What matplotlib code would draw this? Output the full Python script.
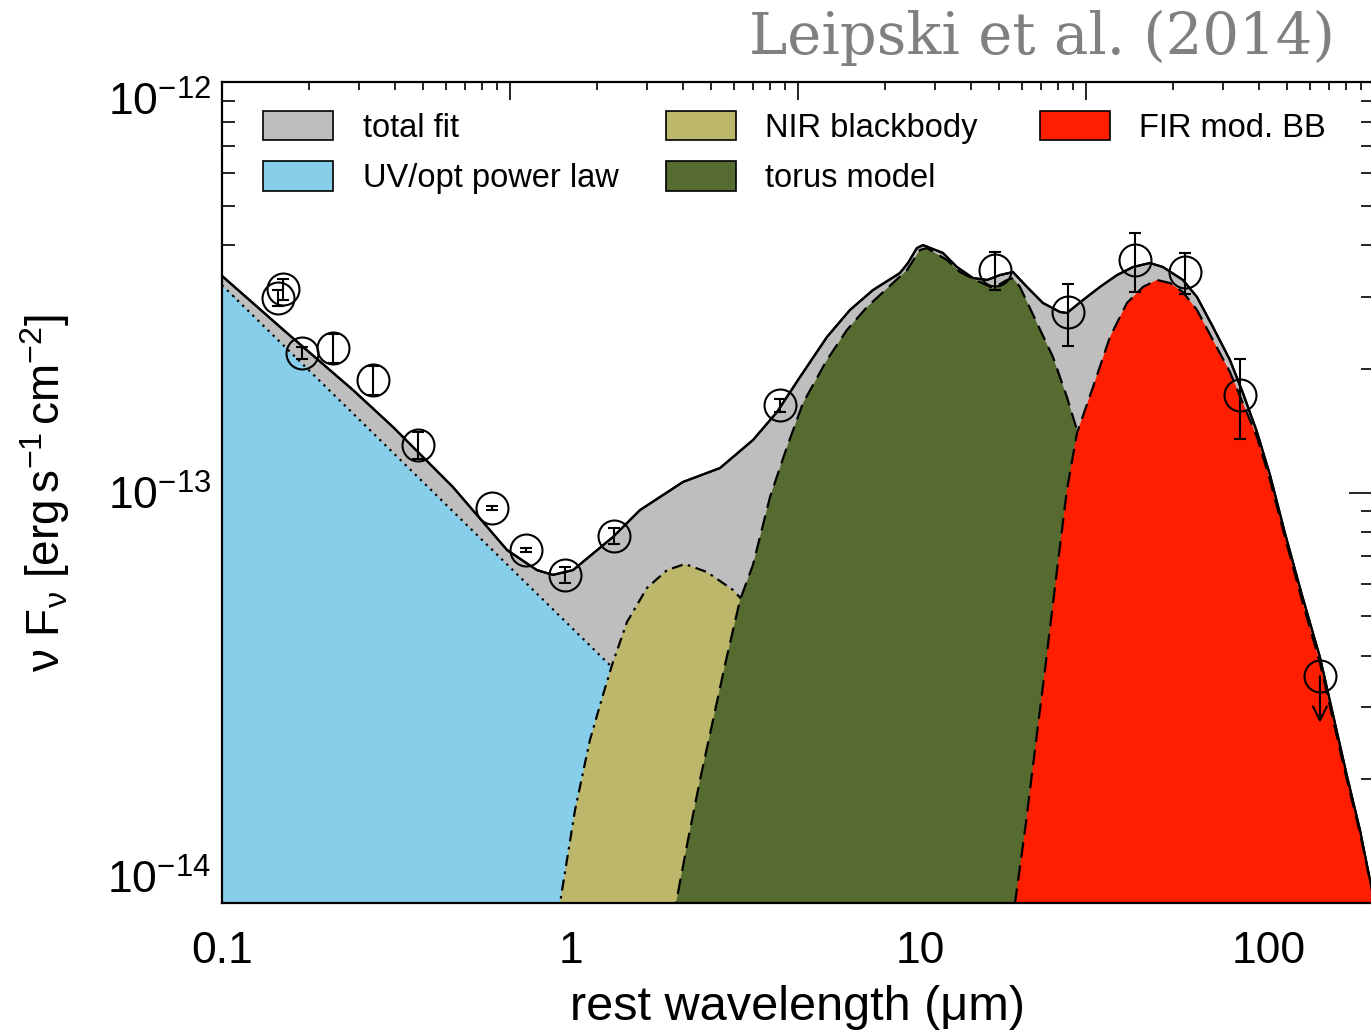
import matplotlib
matplotlib.use("Agg")
from matplotlib import pyplot as plt
from matplotlib.patches import Patch
from matplotlib.ticker import LogLocator, NullFormatter
import numpy as np

UNIT = 1e-13  # all fluxes below in units of 1e-13 erg/s/cm^2

# photometry (rest wavelength in micron)
phot_wave = [0.150, 0.145, 0.170, 0.208, 0.271, 0.364, 0.594, 0.743, 0.962, 1.328,
             3.97, 16.4, 26.5, 41.3, 57.4, 82.6]
phot_flux = [3.13, 2.98, 2.19, 2.25, 1.88, 1.305, 0.917, 0.724, 0.629, 0.783,
             1.63, 3.48, 2.75, 3.68, 3.44, 1.73]
phot_err = [0.18, 0.13, 0.07, 0.18, 0.15, 0.10, 0.01, 0.008, 0.028, 0.035,
            0.055, 0.37, 0.47, 0.60, 0.40, 0.38]
lim_wave = [140.0]
lim_flux = [0.357]
lim_arrow_end = [0.275]

# total fit
total_wave = [0.100, 0.1535, 0.2373, 0.309, 0.459, 0.656, 0.799, 0.888, 1.013, 1.319,
              1.576, 1.799, 2.094, 2.673, 3.322, 3.894, 4.531, 5.413, 6.302, 7.334,
              8.76, 9.24, 9.80, 10.20, 11.64, 12.76, 14.19, 15.56, 16.95, 18.47,
              20.26, 22.51, 25.18, 26.37, 29.31, 32.79, 36.69, 40.76, 45.6, 49.7,
              56.7, 62.2, 69.1, 77.3, 84.2, 92.4, 100.7, 111.1, 124.3, 140.0,
              167.3, 182.3, 197.3, 208]
total_flux = [3.37, 2.447, 1.777, 1.444, 1.031, 0.724, 0.647, 0.630, 0.647, 0.779,
              0.906, 0.975, 1.061, 1.147, 1.342, 1.571, 1.911, 2.392, 2.784, 3.113,
              3.424, 3.623, 3.940, 4.007, 3.832, 3.542, 3.330, 3.294, 3.386, 3.444,
              3.168, 2.895, 2.753, 2.737, 2.943, 3.168, 3.386, 3.542, 3.623, 3.542,
              3.294, 2.994, 2.531, 2.103, 1.748, 1.404, 1.103, 0.797, 0.563, 0.397,
              0.204, 0.1506, 0.1076, 0.088]

# UV/optical power law
pl_wave = [0.1, 2.0]
pl_flux = [3.20, 0.264]

# NIR blackbody
nir_wave = [0.906, 0.930, 1.027, 1.133, 1.235, 1.311, 1.447, 1.651, 1.884, 2.121,
            2.453, 2.912, 3.152, 3.718, 4.531, 5.52, 5.90]
nir_flux = [0.0813, 0.100, 0.1684, 0.2495, 0.3212, 0.380, 0.4836, 0.5855, 0.647, 0.6695,
            0.640, 0.579, 0.538, 0.3494, 0.1885, 0.100, 0.0813]

# torus model
torus_wave = [1.921, 2.0, 2.164, 2.342, 2.535, 2.762, 3.050, 3.322, 3.718, 4.158,
              4.622, 5.413, 6.177, 7.050, 8.367, 9.18, 10.0, 10.47, 11.95, 13.02,
              14.86, 16.19, 17.76, 18.47, 19.34, 21.64, 24.05, 26.37, 28.18, 31.73,
              36.21, 41.30, 48.7, 50.4]
torus_flux = [0.0813, 0.100, 0.1424, 0.1993, 0.2715, 0.380, 0.547, 0.666, 0.975, 1.291,
              1.652, 2.103, 2.489, 2.830, 3.238, 3.483, 3.897, 3.940, 3.685, 3.444,
              3.257, 3.149, 3.294, 3.330, 3.168, 2.588, 2.138, 1.708, 1.420, 0.959,
              0.547, 0.279, 0.100, 0.0813]

# FIR modified blackbody
fir_wave = [17.87, 18.72, 20.0, 21.35, 22.81, 24.70, 26.37, 28.18, 31.32, 35.03,
            39.18, 43.55, 47.76, 52.04, 56.7, 62.2, 69.1, 77.3, 84.2, 92.4,
            100.7, 111.1, 124.3, 140.0, 167.3, 182.3, 197.3, 208]
fir_flux = [0.0768, 0.100, 0.1506, 0.2358, 0.3694, 0.647, 1.014, 1.396, 1.807, 2.392,
            2.895, 3.168, 3.294, 3.238, 3.078, 2.784, 2.352, 1.966, 1.652, 1.365,
            1.073, 0.779, 0.547, 0.3844, 0.1993, 0.1481, 0.1076, 0.0859]

legend_labels = ['total fit', 'UV/opt power law', 'NIR blackbody', 'torus model', 'FIR mod. BB']

col_total = '#bebebe'
col_pl = '#87ceeb'
col_nir = '#bdb76b'
col_torus = '#556b2f'
col_fir = '#ff1e00'

plt.rcParams['font.family'] = ['Liberation Sans', 'DejaVu Sans']
plt.rcParams['mathtext.fontset'] = 'custom'
plt.rcParams['mathtext.rm'] = 'Liberation Sans'
plt.rcParams['mathtext.it'] = 'Liberation Sans:italic'

fig = plt.figure(figsize=(13.71, 10.30), dpi=100)
ax = fig.add_axes([222 / 1371, 127 / 1030, 1152 / 1371, 821 / 1030])
ax.set_xscale('log')
ax.set_yscale('log')
ax.set_xlim(0.1, 200)
ax.set_ylim(1e-14, 1e-12)

floor = 1e-16


def component(wave, flux, color, ls, z):
    w = np.array(wave)
    f = np.array(flux) * UNIT
    ax.fill_between(w, f, floor, color=color, lw=0, zorder=z)
    ax.plot(w, f, color='black', lw=1.6, ls=ls, zorder=z + 0.5)


component(total_wave, total_flux, col_total, '-', 1)
component(pl_wave, pl_flux, col_pl, (0, (1, 2.2)), 2)
component(nir_wave, nir_flux, col_nir, (0, (5, 2.5, 1.2, 2.5)), 3)
component(torus_wave, torus_flux, col_torus, (0, (7, 3.5)), 4)
component(fir_wave, fir_flux, col_fir, (0, (7, 3.5)), 5)
# total fit line again on top
ax.plot(total_wave, np.array(total_flux) * UNIT, color='black', lw=1.6, zorder=6)

# photometry
ax.errorbar(phot_wave, np.array(phot_flux) * UNIT, yerr=np.array(phot_err) * UNIT,
            fmt='o', ms=23, mfc='none', mec='black', mew=1.5, ecolor='black',
            elinewidth=1.5, capsize=4, capthick=1.5, zorder=8)
ax.plot(lim_wave, np.array(lim_flux) * UNIT, 'o', ms=23, mfc='none', mec='black',
        mew=1.5, zorder=8)
for w, f0, f1 in zip(lim_wave, lim_flux, lim_arrow_end):
    ax.annotate('', xy=(w, f1 * UNIT), xytext=(w, f0 * UNIT),
                arrowprops=dict(arrowstyle='->', lw=1.5, color='black',
                                mutation_scale=25, shrinkA=0, shrinkB=0), zorder=8)

# axes styling
for sp in ax.spines.values():
    sp.set_linewidth(1.6)
    sp.set_zorder(10)
ax.set_xticks([0.1, 1, 10, 100])
ax.set_xticklabels(['0.1', '1', '10', '100'])
ax.xaxis.set_minor_locator(LogLocator(base=10, subs=np.arange(2, 10)))
ax.xaxis.set_minor_formatter(NullFormatter())
ax.set_yticks([1e-14, 1e-13, 1e-12])
ax.set_yticklabels([r'$10^{-14}$', r'$10^{-13}$', r'$10^{-12}$'])
ax.yaxis.set_minor_locator(LogLocator(base=10, subs=np.arange(2, 10)))
ax.yaxis.set_minor_formatter(NullFormatter())
ax.tick_params(axis='x', which='major', direction='in', length=11.5, width=1.2,
               labelsize=32, pad=20, top=False)
ax.tick_params(axis='x', which='minor', direction='in', length=6, width=1.2, top=False)
ax.tick_params(axis='y', which='major', direction='in', length=18, width=1.2,
               labelsize=32, pad=8, right=True)
ax.tick_params(axis='y', which='minor', direction='in', length=9.5, width=1.2, right=True)
ylabs = ax.get_yticklabels()
ylabs[0].set_va('bottom')
ylabs[2].set_va('top')

ax.set_xlabel('rest wavelength (μm)', fontsize=35)
ax.xaxis.set_label_coords(0.5, -0.1)
ax.set_ylabel(r'$\mathrm{\nu\ F_{\nu}\ [erg\,s^{-1}\,cm^{-2}]}$', fontsize=33)
ax.yaxis.set_label_coords(-0.13, 0.5)

# top axis: separate log scale spanning four decades, no labels
top = ax.twiny()
top.set_xscale('log')
top.set_xlim(1, 1e4)
top.xaxis.set_minor_locator(LogLocator(base=10, subs=np.arange(2, 10)))
top.xaxis.set_minor_formatter(NullFormatter())
top.tick_params(axis='x', which='major', direction='in', length=13, width=1.2,
                labeltop=False, bottom=False)
top.tick_params(axis='x', which='minor', direction='in', length=6, width=1.2, bottom=False)
for sp in top.spines.values():
    sp.set_visible(False)

# legend in three columns
handles = [Patch(facecolor=c, edgecolor='black', lw=1.2)
           for c in (col_total, col_pl, col_nir, col_torus, col_fir)]
lg_kw = dict(frameon=False, fontsize=23.5, handlelength=2.15, handleheight=1.0,
             handletextpad=0.9, labelspacing=0.55, borderpad=0, borderaxespad=0,
             loc='upper left')
lg1 = ax.legend(handles[0:2], legend_labels[0:2], bbox_to_anchor=(0.0356, 0.965), **lg_kw)
ax.add_artist(lg1)
lg2 = ax.legend(handles[2:4], legend_labels[2:4], bbox_to_anchor=(0.385, 0.965), **lg_kw)
ax.add_artist(lg2)
ax.legend(handles[4:5], legend_labels[4:5], bbox_to_anchor=(0.710, 0.965), **lg_kw)

fig.text(1335 / 1371, 1 - 38 / 1030, 'Leipski et al. (2014)', ha='right', va='center',
         color='#808080', fontsize=41.5, family='DejaVu Serif')

fig.savefig('out.png', dpi=100)
